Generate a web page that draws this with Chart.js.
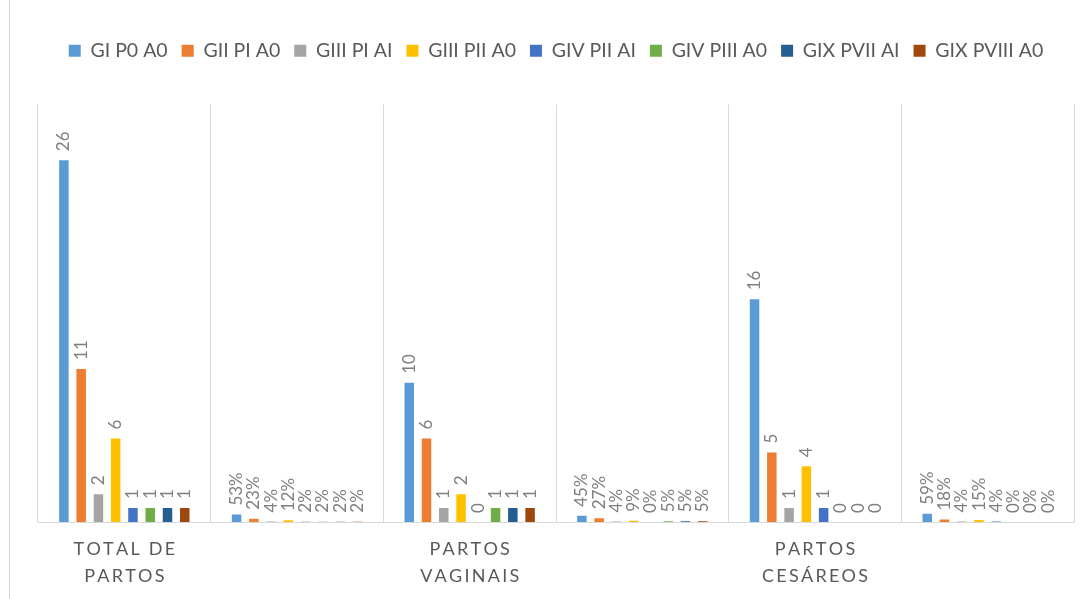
<!DOCTYPE html>
<html>
<head>
<meta charset="utf-8">
<script src="https://cdn.jsdelivr.net/npm/chart.js@4"></script>
<style>
  html, body { margin: 0; padding: 0; background: #fff; }
  #wrap { position: relative; width: 1089px; height: 599px; }
  #edge { position: absolute; left: 9px; top: 0; width: 1px; height: 599px; background: #d9d9d9; }
  canvas { position: absolute; left: 0; top: 0; }
</style>
</head>
<body>
<div id="wrap">
  <div id="edge"></div>
  <canvas id="myChart" width="1089" height="599"></canvas>
</div>
<script>
// categories on the x axis (the percentage columns have no label)
var categories = ['TOTAL DE|PARTOS', '', 'PARTOS|VAGINAIS', '', 'PARTOS|CESÁREOS', ''];
var series = ['GI P0 A0', 'GII PI A0', 'GIII PI AI', 'GIII PII A0', 'GIV PII AI', 'GIV PIII A0', 'GIX PVII AI', 'GIX PVIII A0'];
var colors = ['#5B9BD5', '#ED7D31', '#A5A5A5', '#FFC000', '#4472C4', '#70AD47', '#255E91', '#9E480E'];

// counts and shares, one value per series
var totalPartos   = [26, 11, 2, 6, 1, 1, 1, 1];
var totalPct      = [0.53, 0.23, 0.04, 0.12, 0.02, 0.02, 0.02, 0.02];
var vaginais      = [10, 6, 1, 2, 0, 1, 1, 1];
var vaginaisPct   = [0.45, 0.27, 0.04, 0.09, 0.00, 0.05, 0.05, 0.05];
var cesareos      = [16, 5, 1, 4, 1, 0, 0, 0];
var cesareosPct   = [0.59, 0.18, 0.04, 0.15, 0.04, 0.00, 0.00, 0.00];

var groups = [totalPartos, totalPct, vaginais, vaginaisPct, cesareos, cesareosPct];
var isPct = [false, true, false, true, false, true];

var datasets = [];
for (var i = 0; i < series.length; i++) {
    datasets.push({
        label: series[i],
        backgroundColor: colors[i],
        data: groups.map(function(g) { return g[i]; }),
        barPercentage: 0.55,
        categoryPercentage: 0.8
    });
}

function spaced(s) {
    return s.split('').join('\u2009');
}

// rotated value labels above each bar
var barLabels = {
    id: 'barLabels',
    afterDatasetsDraw: function(chart) {
        var ctx = chart.ctx;
        ctx.save();
        ctx.font = '17px Lato';
        ctx.fillStyle = '#7f7f7f';
        ctx.textAlign = 'left';
        ctx.textBaseline = 'middle';
        chart.data.datasets.forEach(function(ds, di) {
            var meta = chart.getDatasetMeta(di);
            meta.data.forEach(function(bar, ci) {
                var v = ds.data[ci];
                var txt = isPct[ci] ? Math.round(v * 100) + '%' : String(v);
                ctx.save();
                ctx.translate(bar.x, bar.y - 9);
                ctx.rotate(-Math.PI / 2);
                ctx.fillText(txt, 0, 0);
                ctx.restore();
            });
        });
        ctx.restore();
    }
};

// extra space under the legend
var legendGap = {
    id: 'legendGap',
    beforeInit: function(chart) {
        var fit = chart.legend.fit;
        chart.legend.fit = function() {
            fit.bind(chart.legend)();
            this.height += 34;
        };
    }
};

var ctx = document.getElementById('myChart').getContext('2d');
var chart = new Chart(ctx, {
    type: 'bar',
    data: {
        labels: categories,
        datasets: datasets
    },
    plugins: [barLabels, legendGap],
    options: {
        responsive: false,
        animation: false,
        layout: { padding: { left: 38, right: 15, top: 27, bottom: -5 } },
        plugins: {
            tooltip: { enabled: false },
            legend: {
                position: 'top',
                labels: {
                    boxWidth: 12,
                    boxHeight: 12,
                    padding: 14,
                    color: '#595959',
                    font: { family: 'Lato', size: 19.5 }
                }
            }
        },
        scales: {
            x: {
                grid: { offset: true, color: '#d9d9d9', drawTicks: false },
                border: { color: '#d9d9d9' },
                ticks: {
                    padding: 14,
                    color: '#595959',
                    font: { family: 'Lato', size: 18, lineHeight: 1.5 },
                    maxRotation: 0,
                    autoSkip: false,
                    callback: function(val, idx) {
                        var c = categories[idx];
                        if (!c) return '';
                        return c.split('|').map(spaced);
                    }
                }
            },
            y: {
                display: false,
                min: 0,
                max: 30
            }
        }
    }
});
</script>
</body>
</html>
